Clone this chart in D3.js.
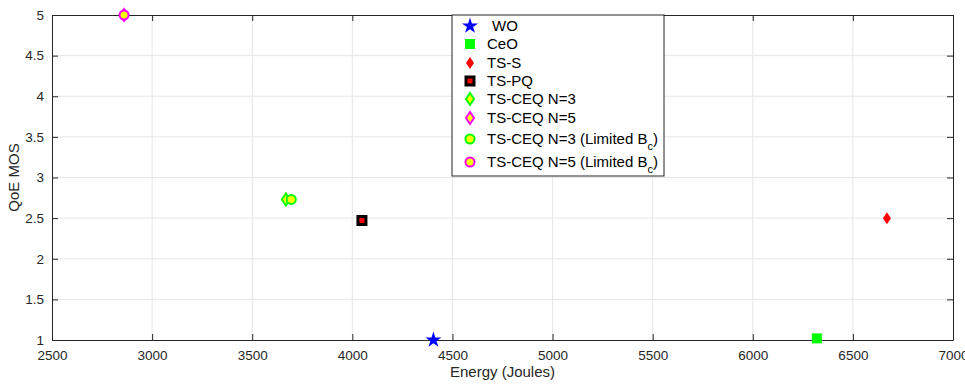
<!DOCTYPE html>
<html>
<head>
<meta charset="utf-8">
<script src="https://cdn.jsdelivr.net/npm/d3@7"></script>
<style>
  body { margin: 0; background: #fff; }
  svg { font-family: "Liberation Sans", Arial, sans-serif; }
</style>
</head>
<body>
<figure id="chart" style="margin:0"></figure>
<script>
// data
const seriesNames = ["WO", "CeO", "TS-S", "TS-PQ", "TS-CEQ N=3", "TS-CEQ N=5",
  "TS-CEQ N=3 (Limited Bc)", "TS-CEQ N=5 (Limited Bc)"];
const energy = [4405, 6320, 6670, 4048, 3668, 2860, 3695, 2860];
const qoe = [1.0, 1.02, 2.5, 2.47, 2.73, 5.0, 2.73, 5.0];
const xTicks = [2500, 3000, 3500, 4000, 4500, 5000, 5500, 6000, 6500, 7000];
const yTicks = [1, 1.5, 2, 2.5, 3, 3.5, 4, 4.5, 5];

// marker styles per series
const styles = [
  { shape: "star", fill: "#0000ff", stroke: "#0000ff", size: 80, sw: 0 },
  { shape: "square", fill: "#00ff00", stroke: "#00ff00", size: 100, sw: 0 },
  { shape: "diamond", fill: "#ff0000", stroke: "#ff0000", size: 0, sw: 0 },
  { shape: "square", fill: "#ff0000", stroke: "#000000", size: 64, sw: 3 },
  { shape: "diamond", fill: "#ffff00", stroke: "#00ff00", size: 0, sw: 2 },
  { shape: "diamond", fill: "#ffff00", stroke: "#ff00ff", size: 0, sw: 2 },
  { shape: "circle", fill: "#ffff00", stroke: "#00ff00", size: 64, sw: 2 },
  { shape: "circle", fill: "#ffff00", stroke: "#ff00ff", size: 64, sw: 2 }
];

const W = 965, H = 384;
const margin = { top: 15, right: 12, bottom: 44, left: 52 };
const width = W - margin.left - margin.right;
const height = H - margin.top - margin.bottom;

const svg = d3.select("figure#chart").append("svg")
  .attr("width", W).attr("height", H);
const g = svg.append("g")
  .attr("transform", "translate(" + margin.left + "," + margin.top + ")");

const x = d3.scaleLinear().domain([2500, 7000]).range([0, width]);
const y = d3.scaleLinear().domain([1, 5]).range([height, 0]);

// grid
g.append("g").selectAll("line").data(xTicks.slice(1, -1)).enter().append("line")
  .attr("x1", d => x(d)).attr("x2", d => x(d)).attr("y1", 0).attr("y2", height)
  .attr("stroke", "#e6e6e6").attr("stroke-width", 1);
g.append("g").selectAll("line").data(yTicks.slice(1, -1)).enter().append("line")
  .attr("y1", d => y(d)).attr("y2", d => y(d)).attr("x1", 0).attr("x2", width)
  .attr("stroke", "#e6e6e6").attr("stroke-width", 1);

// axes (ticks pointing inward, box on all sides)
const axisColor = "#262626";
function styleAxis(sel) {
  sel.select(".domain").attr("stroke", axisColor);
  sel.selectAll(".tick line").attr("stroke", axisColor);
  sel.selectAll(".tick text").attr("fill", axisColor).style("font-size", "13.5px");
  sel.attr("font-family", null);
}
g.append("g").attr("transform", "translate(0," + height + ")")
  .call(d3.axisBottom(x).tickValues(xTicks).tickFormat(d3.format("d")).tickSizeInner(-6).tickSizeOuter(0).tickPadding(10))
  .call(styleAxis);
g.append("g")
  .call(d3.axisLeft(y).tickValues(yTicks).tickFormat(d3.format("")).tickSizeInner(-6).tickSizeOuter(0).tickPadding(8))
  .call(styleAxis);
g.append("g")
  .call(d3.axisTop(x).tickValues(xTicks).tickSizeInner(-6).tickSizeOuter(0).tickFormat(""))
  .call(styleAxis);
g.append("g").attr("transform", "translate(" + width + ",0)")
  .call(d3.axisRight(y).tickValues(yTicks).tickSizeInner(-6).tickSizeOuter(0).tickFormat(""))
  .call(styleAxis);

// axis labels
svg.append("text")
  .attr("x", margin.left + width / 2).attr("y", H - 7)
  .attr("text-anchor", "middle").attr("fill", axisColor).style("font-size", "15px")
  .text("Energy (Joules)");
svg.append("text")
  .attr("transform", "translate(19," + (margin.top + height / 2) + ") rotate(-90)")
  .attr("text-anchor", "middle").attr("fill", axisColor).style("font-size", "15px")
  .text("QoE MOS");

// marker drawing
function drawMarker(sel, s) {
  if (s.shape === "diamond") {
    sel.append("path").attr("d", "M0,-6L4,0L0,6L-4,0Z")
      .attr("fill", s.fill).attr("stroke", s.stroke).attr("stroke-width", s.sw);
  } else {
    const sym = { star: d3.symbolStar, square: d3.symbolSquare, circle: d3.symbolCircle }[s.shape];
    sel.append("path").attr("d", d3.symbol().type(sym).size(s.size)())
      .attr("fill", s.fill).attr("stroke", s.stroke).attr("stroke-width", s.sw);
  }
}

const pts = seriesNames.map((name, i) => ({ name, e: energy[i], q: qoe[i], s: styles[i] }));
g.selectAll(".pt").data(pts).enter().append("g")
  .attr("class", "pt")
  .attr("transform", d => "translate(" + x(d.e) + "," + y(d.q) + ")")
  .each(function (d) { drawMarker(d3.select(this), d.s); });

// legend
const legX = 452, legY = 15, legW = 212, legH = 161;
const legRows = [26, 44, 63, 81, 99, 118, 139, 162];
const legend = svg.append("g");
legend.append("rect").attr("x", legX).attr("y", legY).attr("width", legW).attr("height", legH)
  .attr("fill", "#fff").attr("stroke", axisColor).attr("stroke-width", 1);
pts.forEach((d, i) => {
  const row = legend.append("g").attr("transform", "translate(0," + legRows[i] + ")");
  drawMarker(row.append("g").attr("transform", "translate(470,0)"), d.s);
  const t = row.append("text").attr("x", i === 0 ? 492 : 487).attr("y", 5)
    .attr("fill", "#000").style("font-size", "15px");
  if (d.name.endsWith("(Limited Bc)")) {
    t.text(d.name.replace("Bc)", "B"));
    t.append("tspan").attr("baseline-shift", "sub").style("font-size", "11px").text("c");
    t.append("tspan").attr("baseline-shift", "0").text(")");
  } else {
    t.text(d.name);
  }
});
</script>
</body>
</html>
